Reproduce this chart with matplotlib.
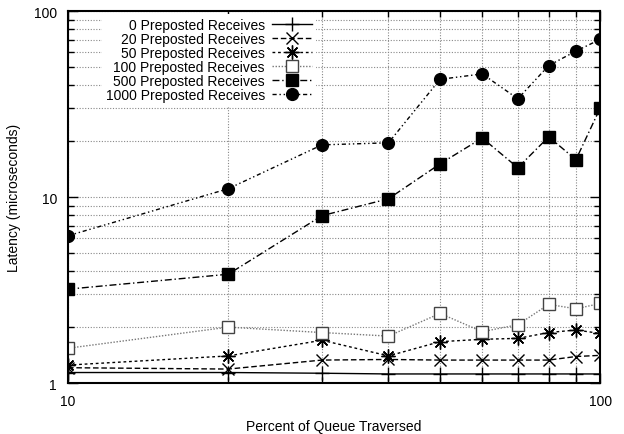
import numpy as np
import matplotlib.pyplot as plt
from matplotlib.ticker import FixedLocator, NullFormatter

plt.rcParams['font.family'] = ['Liberation Sans', 'DejaVu Sans']
plt.rcParams['font.size'] = 10

percent = [10, 20, 30, 40, 50, 60, 70, 80, 90, 100]

lat_0 = [1.14, 1.14, 1.13, 1.12, 1.12, 1.12, 1.12, 1.12, 1.12, 1.12]
lat_20 = [1.21, 1.19, 1.33, 1.34, 1.33, 1.33, 1.33, 1.33, 1.39, 1.41]
lat_50 = [1.25, 1.40, 1.70, 1.40, 1.67, 1.72, 1.74, 1.87, 1.93, 1.85]
lat_100 = [1.54, 2.00, 1.87, 1.79, 2.37, 1.89, 2.06, 2.65, 2.51, 2.68]
lat_500 = [3.2, 3.85, 7.95, 9.8, 15.1, 20.8, 14.4, 21.1, 15.9, 30.2]
lat_1000 = [6.2, 11.1, 19.1, 19.6, 43.0, 46.0, 33.8, 51.0, 61.0, 70.6]

labels = ['0 Preposted Receives', '20 Preposted Receives', '50 Preposted Receives',
          '100 Preposted Receives', '500 Preposted Receives', '1000 Preposted Receives']

fig = plt.figure(figsize=(6.24, 4.35), dpi=100)
ax = fig.add_axes([0.109, 0.117, 0.853, 0.855])

asterisk = (8, 2, 0)
styles = [
    dict(color='black', ls='-', marker='+', ms=10, mew=1.0),
    dict(color='black', ls=(0, (4, 2)), marker='x', ms=9, mew=1.0),
    dict(color='black', ls=(0, (2, 2)), marker=asterisk, ms=10, mew=1.0),
    dict(color='#777777', ls=(0, (1, 1.2)), marker='s', ms=9, mfc='white', mec='#444444', mew=1.0),
    dict(color='black', ls=(0, (5, 2, 1, 2)), marker='s', ms=9),
    dict(color='black', ls=(0, (3, 2, 1, 2, 1, 2)), marker='o', ms=8.5),
]
series = [lat_0, lat_20, lat_50, lat_100, lat_500, lat_1000]
for ys, lab, st in zip(series, labels, styles):
    ax.plot(percent, ys, label=lab, lw=1.0, **st)

ax.set_xscale('log')
ax.set_yscale('log')
ax.set_xlim(10, 100)
ax.set_ylim(1, 100)

ax.xaxis.set_major_locator(FixedLocator([10, 100]))
ax.xaxis.set_minor_locator(FixedLocator(percent[1:-1]))
ax.yaxis.set_major_locator(FixedLocator([1, 10, 100]))
ax.yaxis.set_minor_locator(FixedLocator([2, 3, 4, 5, 6, 7, 8, 9, 20, 30, 40, 50, 60, 70, 80, 90]))
ax.xaxis.set_minor_formatter(NullFormatter())
ax.yaxis.set_minor_formatter(NullFormatter())
ax.set_xticklabels(['10', '100'])
ax.set_yticklabels(['1', '10', '100'])

ax.tick_params(which='both', direction='in', top=True, right=True, labelsize=10, width=1)
ax.tick_params(which='major', length=7, pad=8)
ax.tick_params(which='minor', length=4)

ax.grid(True, which='both', color='#888888', ls=(0, (1, 1.5)), lw=0.8)
ax.set_axisbelow(True)
for sp in ax.spines.values():
    sp.set_linewidth(1.5)

ax.set_xlabel('Percent of Queue Traversed', fontsize=10, labelpad=8)
ax.set_ylabel('Latency (microseconds)', fontsize=10, labelpad=9)

leg = ax.legend(loc='upper left', bbox_to_anchor=(0.05, 1.012), markerfirst=False,
                alignment='right', frameon=True, edgecolor='none', facecolor='white',
                framealpha=1, fancybox=False, handlelength=2.9, labelspacing=0.0,
                borderpad=0.3, handletextpad=0.5, fontsize=10)

fig.savefig('out.png', dpi=100)
